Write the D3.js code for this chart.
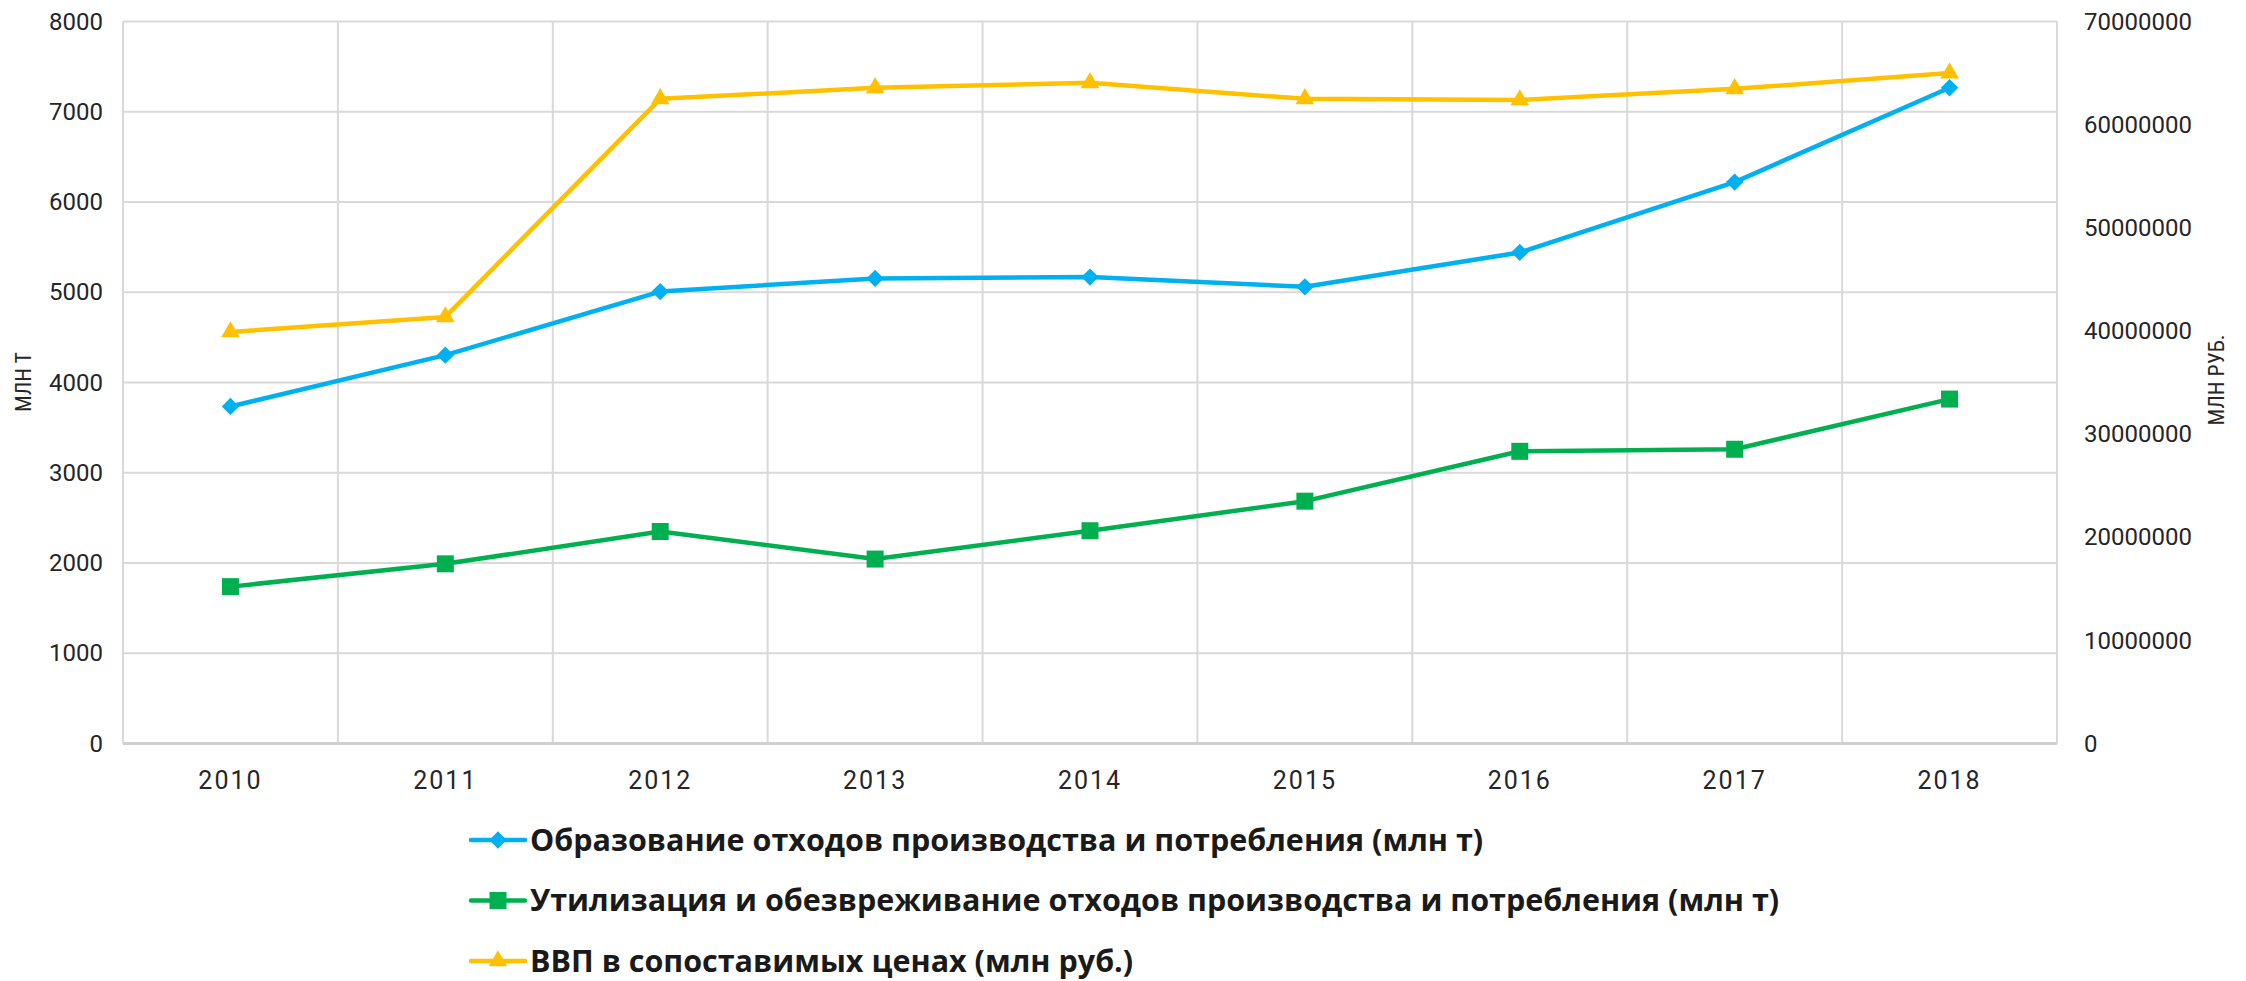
<!DOCTYPE html>
<html>
<head>
<meta charset="utf-8">
<script src="https://cdn.jsdelivr.net/npm/d3@7"></script>
<style>
  body { margin: 0; background: #fff; }
</style>
</head>
<body>
<div id="chart"></div>
<script>
// data
const years = ["2010", "2011", "2012", "2013", "2014", "2015", "2016", "2017", "2018"];
const wasteFormed = [3734.7, 4303.3, 5007.9, 5152.8, 5168.3, 5060.2, 5441.3, 6220.6, 7266.1];
const wasteUsed = [1738.1, 1990.7, 2348.9, 2043.6, 2357.8, 2685.1, 3237.6, 3260.3, 3816.3];
const gdp = [39900000, 41360000, 62500000, 63570000, 64060000, 62500000, 62400000, 63470000, 65000000];
const leftTicks = [0, 1000, 2000, 3000, 4000, 5000, 6000, 7000, 8000];
const rightTicks = [0, 10000000, 20000000, 30000000, 40000000, 50000000, 60000000, 70000000];
const seriesNames = [
  "Образование отходов производства и потребления (млн т)",
  "Утилизация и обезвреживание отходов производства и потребления (млн т)",
  "ВВП в сопоставимых ценах (млн руб.)"
];

// set the dimensions and margins of the graph
const margin = { top: 21.5, right: 189, bottom: 237.5, left: 123 },
    width = 2246 - margin.left - margin.right,
    height = 981 - margin.top - margin.bottom;

const svgRoot = d3.select("#chart")
    .append("svg")
    .attr("width", 2246)
    .attr("height", 981);

const svg = svgRoot.append("g")
    .attr("transform", `translate(${margin.left},${margin.top})`);

const x = d3.scaleBand().domain(years).range([0, width]);
const yLeft = d3.scaleLinear().domain([0, 8000]).range([height, 0]);
const yRight = d3.scaleLinear().domain([0, 70000000]).range([height, 0]);

const gridColor = "#d9d9d9";

// horizontal grid
svg.append("g")
    .selectAll("line")
    .data(leftTicks)
    .join("line")
    .attr("x1", 0)
    .attr("x2", width)
    .attr("y1", d => yLeft(d))
    .attr("y2", d => yLeft(d))
    .attr("stroke", gridColor)
    .attr("stroke-width", 2);

// vertical grid at band edges
svg.append("g")
    .selectAll("line")
    .data(years.concat(["end"]))
    .join("line")
    .attr("x1", (d, i) => i < years.length ? x(d) : width)
    .attr("x2", (d, i) => i < years.length ? x(d) : width)
    .attr("y1", 0)
    .attr("y2", height)
    .attr("stroke", gridColor)
    .attr("stroke-width", 2);

// bottom axis line
svg.append("line")
    .attr("x1", 0).attr("x2", width)
    .attr("y1", height).attr("y2", height)
    .attr("stroke", "#d0d0d0")
    .attr("stroke-width", 3);

// left axis
const axisL = svg.append("g")
    .call(d3.axisLeft(yLeft).tickValues(leftTicks).tickSize(0).tickPadding(20).tickFormat(d3.format("d")));
axisL.select(".domain").remove();
axisL.selectAll("text")
    .attr("font-family", "Roboto, sans-serif")
    .attr("font-size", "24px")
    .attr("fill", "#262626");

// right axis
const axisR = svg.append("g")
    .attr("transform", `translate(${width},0)`)
    .call(d3.axisRight(yRight).tickValues(rightTicks).tickSize(0).tickPadding(27).tickFormat(d3.format("d")));
axisR.select(".domain").remove();
axisR.selectAll("text")
    .attr("font-family", "Roboto, sans-serif")
    .attr("font-size", "24px")
    .attr("fill", "#262626");

// bottom axis
const axisB = svg.append("g")
    .attr("transform", `translate(0,${height})`)
    .call(d3.axisBottom(x).tickSize(0).tickPadding(28));
axisB.select(".domain").remove();
axisB.selectAll("text")
    .attr("font-family", "Roboto, sans-serif")
    .attr("font-size", "25px")
    .attr("letter-spacing", "2px")
    .attr("fill", "#262626");

// axis titles
svgRoot.append("text")
    .attr("transform", "translate(31,382) rotate(-90)")
    .attr("text-anchor", "middle")
    .attr("font-family", "'Liberation Sans Narrow', 'Roboto Condensed', sans-serif")
    .attr("font-size", "22px")
    .attr("fill", "#262626")
    .text("МЛН Т");

svgRoot.append("text")
    .attr("transform", "translate(2224,380) rotate(-90)")
    .attr("text-anchor", "middle")
    .attr("font-family", "'Liberation Sans Narrow', 'Roboto Condensed', sans-serif")
    .attr("font-size", "22px")
    .attr("fill", "#262626")
    .text("МЛН РУБ.");

const cx = d => x(d) + x.bandwidth() / 2;

const series = [
  { name: seriesNames[0], values: wasteFormed, scale: yLeft, color: "#00b0f0", symbol: d3.symbolSquare, size: 150, rotate: 45 },
  { name: seriesNames[1], values: wasteUsed, scale: yLeft, color: "#00b050", symbol: d3.symbolSquare, size: 289, rotate: 0 },
  { name: seriesNames[2], values: gdp, scale: yRight, color: "#ffc000", symbol: d3.symbolTriangle, size: 150, rotate: 0 }
];

// lines and markers
series.forEach(s => {
  const line = d3.line()
      .x((d, i) => cx(years[i]))
      .y(d => s.scale(d));

  svg.append("path")
      .datum(s.values)
      .attr("fill", "none")
      .attr("stroke", s.color)
      .attr("stroke-width", 4.5)
      .attr("stroke-linejoin", "round")
      .attr("d", line);

  svg.append("g")
      .selectAll("path")
      .data(s.values)
      .join("path")
      .attr("transform", (d, i) => `translate(${cx(years[i])},${s.scale(d)}) rotate(${s.rotate})`)
      .attr("d", d3.symbol().type(s.symbol).size(s.size))
      .attr("fill", s.color);
});

// legend
const legend = svgRoot.append("g")
    .selectAll("g")
    .data(series)
    .join("g")
    .attr("transform", (d, i) => `translate(471,${840 + i * 60.5})`);

legend.append("line")
    .attr("x1", 0).attr("x2", 54)
    .attr("y1", 0).attr("y2", 0)
    .attr("stroke", d => d.color)
    .attr("stroke-width", 4.5)
    .attr("stroke-linecap", "round");

legend.append("path")
    .attr("transform", d => `translate(27,0) rotate(${d.rotate})`)
    .attr("d", d => d3.symbol().type(d.symbol).size(d.size)())
    .attr("fill", d => d.color);

legend.append("text")
    .attr("x", 59)
    .attr("y", 0)
    .attr("dy", "0.35em")
    .attr("font-family", "'Open Sans', sans-serif")
    .attr("font-weight", "bold")
    .attr("font-size", "30.5px")
    .attr("fill", "#1a1a1a")
    .text(d => d.name);
</script>
</body>
</html>
